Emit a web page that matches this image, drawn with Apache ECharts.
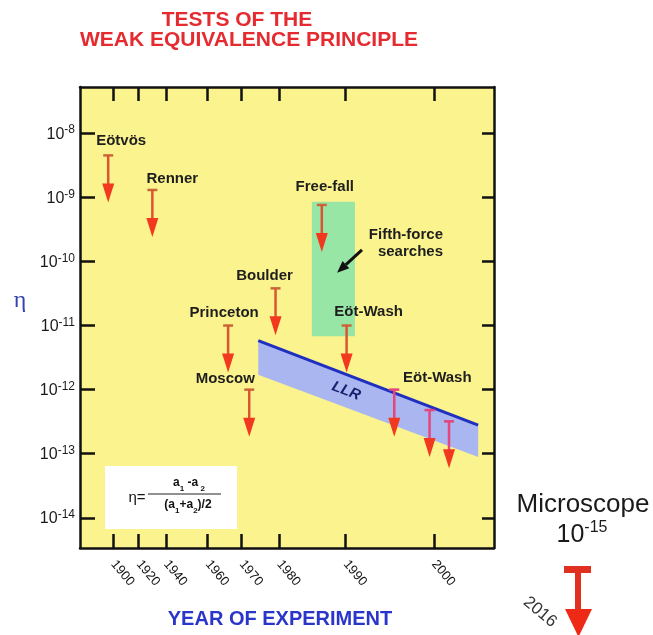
<!DOCTYPE html>
<html><head><meta charset="utf-8">
<script src="https://cdn.jsdelivr.net/npm/echarts@6/dist/echarts.min.js"></script>
<style>html,body{margin:0;padding:0;background:#fff}#c{width:653px;height:635px}</style>
</head><body><div id="c"></div>
<script>
// ---------------- data ----------------
const experiments      = ['Eötvös','Renner','Princeton','Moscow','Boulder','Free-fall','Eöt-Wash','Eöt-Wash','',''];
const experimentYears  = [1896, 1930, 1966, 1972, 1979, 1986.4, 1990.1, 1995.5, 1999.5, 2001.7];
const etaLimits        = [4.5e-9, 1.3e-9, 1e-11, 1e-12, 3.8e-11, 7.6e-10, 1e-11, 1e-12, 4.8e-13, 3.2e-13];
const fifthForceYears  = [1984.9, 1991.05];
const fifthForceEta    = [8.5e-10, 6.8e-12];
const llrYears         = [1974.4, 2005];
const llrUpperEta      = [5.8e-12, 2.8e-13];
const llrLowerEta      = [1.7e-12, 8.9e-14];
const yearTicks        = [1900, 1920, 1940, 1960, 1970, 1980, 1990, 2000];
const etaTickExponents = [-14, -13, -12, -11, -10, -9, -8];
const microscopeYear   = 2016;
const microscopeExp    = -15;

// ---------------- axis scale (the original's non-linear year axis) ----------------
const yearTickStops = [8.04, 14.18, 20.77, 30.85, 39.06, 48.14, 64.18, 85.51];
function yearToX(yr) {
  const t = yearTicks, s = yearTickStops, n = t.length;
  let i = 0;
  if (yr >= t[n - 1]) i = n - 2;
  else if (yr > t[0]) { while (yr > t[i + 1]) i++; }
  return s[i] + (yr - t[i]) * (s[i + 1] - s[i]) / (t[i + 1] - t[i]);
}
function xToYearLabel(v) {
  let best = 0;
  yearTickStops.forEach((s, i) => { if (Math.abs(s - v) < Math.abs(yearTickStops[best] - v)) best = i; });
  return String(yearTicks[best]);
}

// ---------------- styles ----------------
const FONT = 'Liberation Sans, Arial, Helvetica, sans-serif';
const INK = '#111';
const labelOffsets = [[13,-15],[20,-11],[-4,-13],[-24,-11],[-11,-12],[3,-18],[22,-14],[43,-12],[0,0],[0,0]];
const ARROW_LEN = 47, HEAD_H = 19, HEAD_W = 12, CAP_W = 10;

const chart = echarts.init(document.getElementById('c'), null, {renderer: 'canvas'});

const axisLine = {show: true, onZero: false, lineStyle: {color: INK, width: 2.5}};
function xAxisDef(pos, labels) {
  return {
    type: 'value', position: pos, min: 0, max: 100,
    axisLine: axisLine,
    axisTick: {show: true, inside: true, length: 14, customValues: yearTickStops, lineStyle: {color: INK, width: 2.5}},
    axisLabel: {show: labels, customValues: yearTickStops, interval: 0, rotate: -50, margin: 14,
      fontSize: 13, fontFamily: FONT, color: '#111', formatter: xToYearLabel},
    splitLine: {show: false}
  };
}
function yAxisDef(pos, labels, tickLen) {
  return {
    type: 'value', position: pos, min: -14.47, max: -7.28,
    axisLine: axisLine,
    axisTick: {show: true, inside: true, length: tickLen, customValues: etaTickExponents, lineStyle: {color: INK, width: 2.5}},
    axisLabel: {show: labels, customValues: etaTickExponents, margin: 5,
      formatter: v => '{b|10}{s|' + Math.round(v) + '}',
      rich: {
        b: {fontSize: 16, lineHeight: 18, verticalAlign: 'bottom', color: '#1a1a1a', fontFamily: FONT},
        s: {fontSize: 12, lineHeight: 12, verticalAlign: 'top', color: '#1a1a1a', fontFamily: FONT}
      }},
    splitLine: {show: false}
  };
}

const option = {
  backgroundColor: '#fff',
  animation: false,
  grid: {left: 80, right: 159, top: 87, bottom: 87, show: true, backgroundColor: '#fbf38d', borderWidth: 0},
  xAxis: [xAxisDef('bottom', true), xAxisDef('top', false)],
  yAxis: [yAxisDef('left', true, 15), yAxisDef('right', false, 12)],
  series: [
    {
      type: 'custom', name: 'Fifth-force searches', z: 2,
      data: [[yearToX(fifthForceYears[0]), Math.log10(fifthForceEta[0]), yearToX(fifthForceYears[1]), Math.log10(fifthForceEta[1])]],
      renderItem: (params, api) => {
        const p0 = api.coord([api.value(0), api.value(1)]);
        const p1 = api.coord([api.value(2), api.value(3)]);
        const x = p0[0], y = p0[1], w = p1[0] - p0[0], h = p1[1] - p0[1];
        const tip = [x + w * 0.585, y + h * 0.528], tail = [x + w + 7, y + h * 0.358];
        const ang = Math.atan2(tip[1] - tail[1], tip[0] - tail[0]);
        const hl = 12, hw = 5;
        const base = [tip[0] - hl * Math.cos(ang), tip[1] - hl * Math.sin(ang)];
        const nx = -Math.sin(ang), ny = Math.cos(ang);
        return {type: 'group', children: [
          {type: 'rect', shape: {x: x, y: y, width: w, height: h}, style: {fill: '#98e6a6'}},
          {type: 'line', shape: {x1: tail[0], y1: tail[1], x2: base[0], y2: base[1]}, style: {stroke: '#111', lineWidth: 3}},
          {type: 'polygon', shape: {points: [[base[0] + nx * hw, base[1] + ny * hw], [base[0] - nx * hw, base[1] - ny * hw], tip]}, style: {fill: '#111'}},
          {type: 'text', x: x + w + 88, y: y + h * 0.31, style: {text: 'Fifth-force\nsearches', fontSize: 15, fontWeight: 'bold',
            fontFamily: FONT, fill: '#1e1e1e', align: 'right', verticalAlign: 'middle', lineHeight: 17}}
        ]};
      }
    },
    {
      type: 'custom', name: 'LLR', z: 3,
      data: [[yearToX(llrYears[0]), Math.log10(llrUpperEta[0]), Math.log10(llrLowerEta[0]),
              yearToX(llrYears[1]), Math.log10(llrUpperEta[1]), Math.log10(llrLowerEta[1])]],
      renderItem: (params, api) => {
        const a = api.coord([api.value(0), api.value(1)]);
        const b = api.coord([api.value(0), api.value(2)]);
        const c = api.coord([api.value(3), api.value(4)]);
        const d = api.coord([api.value(3), api.value(5)]);
        const t = 0.4;
        const tx = a[0] + (c[0] - a[0]) * t;
        const ty = ((a[1] + (c[1] - a[1]) * t) + (b[1] + (d[1] - b[1]) * t)) / 2;
        const ang = Math.atan2(c[1] - a[1], c[0] - a[0]);
        return {type: 'group', children: [
          {type: 'polygon', shape: {points: [a, c, d, b]}, style: {fill: '#a9b6f0'}},
          {type: 'line', shape: {x1: a[0], y1: a[1], x2: c[0], y2: c[1]}, style: {stroke: '#1f2fc0', lineWidth: 3}},
          {type: 'text', x: tx, y: ty, rotation: -ang, style: {text: 'LLR', fontSize: 15, fontWeight: 'bold', fontStyle: 'italic',
            fontFamily: FONT, fill: '#17226e', align: 'center', verticalAlign: 'middle'}}
        ]};
      }
    },
    {
      type: 'custom', name: 'Experiments', z: 4,
      data: experimentYears.map((yr, i) => [yearToX(yr), Math.log10(etaLimits[i])]),
      renderItem: (params, api) => {
        const i = params.dataIndex;
        const p = api.coord([api.value(0), api.value(1)]);
        const pink = i >= 7;
        const capCol = pink ? '#e0457c' : '#c8683a';
        const shaftCol = pink ? '#e4467e' : '#dc5530';
        const headCol = '#f2391f';
        const off = labelOffsets[i];
        const kids = [
          {type: 'line', shape: {x1: p[0] - CAP_W / 2, y1: p[1], x2: p[0] + CAP_W / 2, y2: p[1]}, style: {stroke: capCol, lineWidth: 2.5}},
          {type: 'line', shape: {x1: p[0], y1: p[1], x2: p[0], y2: p[1] + ARROW_LEN - HEAD_H + 2}, style: {stroke: shaftCol, lineWidth: 2.5}},
          {type: 'polygon', shape: {points: [[p[0] - HEAD_W / 2, p[1] + ARROW_LEN - HEAD_H], [p[0] + HEAD_W / 2, p[1] + ARROW_LEN - HEAD_H], [p[0], p[1] + ARROW_LEN]]},
            style: {fill: headCol}}
        ];
        if (experiments[i]) {
          kids.push({type: 'text', x: p[0] + off[0], y: p[1] + off[1], style: {text: experiments[i], fontSize: 15, fontWeight: 'bold',
            fontFamily: FONT, fill: '#1e1e1e', align: 'center', verticalAlign: 'middle'}});
        }
        return {type: 'group', children: kids};
      }
    }
  ],
  graphic: [
    {type: 'text', x: 237, y: 20, z: 100, style: {text: 'TESTS OF THE', fontSize: 21, fontWeight: 'bold', fontFamily: FONT,
      fill: '#e52b30', align: 'center', verticalAlign: 'middle'}},
    {type: 'text', x: 249, y: 40, z: 100, style: {text: 'WEAK EQUIVALENCE PRINCIPLE', fontSize: 21, fontWeight: 'bold', fontFamily: FONT,
      fill: '#e52b30', align: 'center', verticalAlign: 'middle'}},
    {type: 'text', x: 280, y: 619, z: 100, style: {text: 'YEAR OF EXPERIMENT', fontSize: 20, fontWeight: 'bold', fontFamily: FONT,
      fill: '#2a35c9', align: 'center', verticalAlign: 'middle'}},
    {type: 'text', x: 20, y: 301, z: 100, style: {text: 'η', fontSize: 24, fontFamily: 'Liberation Serif, serif',
      fill: '#3343b0', align: 'center', verticalAlign: 'middle'}},
    // formula box
    {type: 'rect', z: 100, shape: {x: 105, y: 466, width: 132, height: 63}, style: {fill: '#fff'}},
    {type: 'text', x: 137, y: 498, z: 101, style: {text: 'η=', fontSize: 15, fontFamily: FONT, fill: '#111', align: 'center', verticalAlign: 'middle'}},
    {type: 'text', x: 189, y: 485, z: 101, style: {text: '{m|a}{s|1}{m| -a}{s| 2}', align: 'center', verticalAlign: 'middle',
      rich: {m: {fontSize: 12, fontWeight: 'bold', lineHeight: 16, verticalAlign: 'top', fill: '#111', fontFamily: FONT},
             s: {fontSize: 8, fontWeight: 'bold', lineHeight: 16, verticalAlign: 'bottom', fill: '#111', fontFamily: FONT}}}},
    {type: 'line', z: 101, shape: {x1: 148, y1: 494, x2: 221, y2: 494}, style: {stroke: '#222', lineWidth: 1}},
    {type: 'text', x: 188, y: 507, z: 101, style: {text: '{m|(a}{s|1}{m|+a}{s|2}{m|)/2}', align: 'center', verticalAlign: 'middle',
      rich: {m: {fontSize: 12, fontWeight: 'bold', lineHeight: 16, verticalAlign: 'top', fill: '#111', fontFamily: FONT},
             s: {fontSize: 8, fontWeight: 'bold', lineHeight: 16, verticalAlign: 'bottom', fill: '#111', fontFamily: FONT}}}},
    // Microscope annotation (outside the axes)
    {type: 'text', x: 583, y: 505, z: 100, style: {text: 'Microscope', fontSize: 26, fontFamily: FONT, fill: '#1a1a1a', align: 'center', verticalAlign: 'middle'}},
    {type: 'text', x: 582, y: 534, z: 100, style: {text: '{b|10}{s|' + microscopeExp + '}', align: 'center', verticalAlign: 'middle',
      rich: {b: {fontSize: 25, lineHeight: 28, verticalAlign: 'bottom', fill: '#1a1a1a', fontFamily: FONT},
             s: {fontSize: 16, lineHeight: 16, verticalAlign: 'top', fill: '#1a1a1a', fontFamily: FONT}}}},
    {type: 'rect', z: 100, shape: {x: 564, y: 566, width: 27, height: 7}, style: {fill: '#e0301f'}},
    {type: 'rect', z: 100, shape: {x: 575, y: 572, width: 6, height: 40}, style: {fill: '#e0301f'}},
    {type: 'polygon', z: 100, shape: {points: [[565, 609], [592, 609], [578.5, 637]]}, style: {fill: '#ee2a16'}},
    {type: 'text', x: 540, y: 612, z: 100, rotation: -40 * Math.PI / 180, style: {text: String(microscopeYear), fontSize: 17,
      fontFamily: FONT, fill: '#333', align: 'center', verticalAlign: 'middle'}}
  ]
};
chart.setOption(option);
</script></body></html>
